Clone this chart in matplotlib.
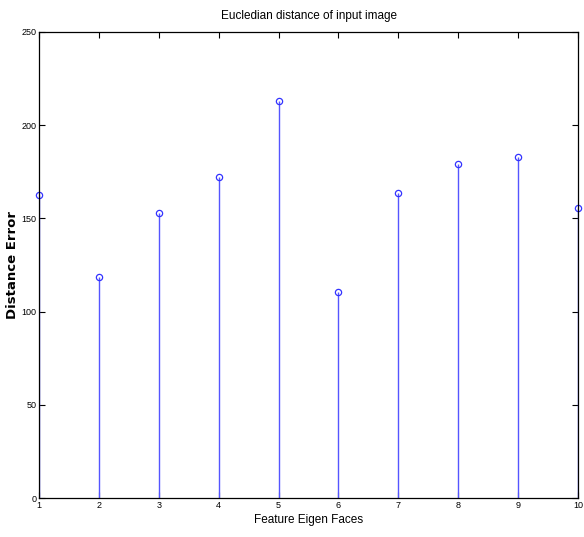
import matplotlib
matplotlib.use("Agg")
import matplotlib.pyplot as plt

plt.rcParams['font.family'] = ['Liberation Sans Narrow', 'Liberation Sans', 'DejaVu Sans']

# Datos
caras = [1, 2, 3, 4, 5, 6, 7, 8, 9, 10]
distancias = [162.5, 118.5, 153, 172, 213, 110.5, 163.5, 179, 183, 155.5]
ticks_y = [0, 50, 100, 150, 200, 250]

fig = plt.figure(figsize=(5.84, 5.37), dpi=100)
ax = fig.add_axes([0.0668, 0.0726, 0.923, 0.868])

ax.vlines(caras, 0, distancias, color='#5555ff', linewidth=1)
ax.plot(caras, distancias, 'o', color='#3333ff', markersize=4.5,
        markerfacecolor='none', markeredgewidth=0.9, clip_on=False)

ax.set_xlim(1, 10)
ax.set_ylim(0, 250)
ax.set_xticks(caras)
ax.set_yticks(ticks_y)
ax.tick_params(direction='in', length=4, labelsize=6.5, top=True, right=True,
               width=0.8, pad=2)
for s in ax.spines.values():
    s.set_linewidth(0.9)

ax.set_title('Eucledian distance of input image', fontsize=8.5, pad=9)
ax.set_xlabel('Feature Eigen Faces', fontsize=8.5, labelpad=3)
ax.set_ylabel('Distance Error', fontsize=9.5, fontweight='bold',
              family=['DejaVu Sans'])
ax.yaxis.set_label_coords(-0.037, 0.5)

fig.savefig('out.png', dpi=100)
